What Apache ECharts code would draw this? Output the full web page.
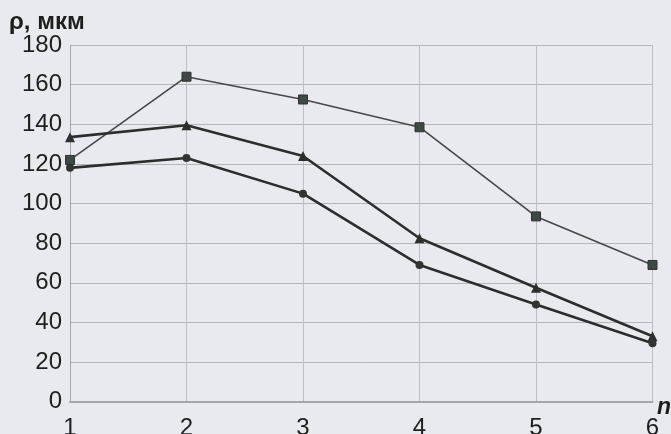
<!DOCTYPE html>
<html>
<head>
<meta charset="utf-8">
<script src="https://cdn.jsdelivr.net/npm/echarts@6/dist/echarts.min.js"></script>
<style>
html,body{margin:0;padding:0;background:#e9eaef;}
#chart{width:671px;height:434px;}
</style>
</head>
<body>
<div id="chart"></div>
<script>
var categories = ['1', '2', '3', '4', '5', '6'];
var seriesSquares = [122, 164, 152.5, 138.5, 93.5, 69];
var seriesTriangles = [133.5, 139.5, 124, 82.5, 57.5, 33];
var seriesCircles = [118, 123, 105, 69, 49, 29.5];
var yTicks = [0, 20, 40, 60, 80, 100, 120, 140, 160, 180];
var yTitle = 'ρ, мкм';
var xTitle = 'n';

var chart = echarts.init(document.getElementById('chart'), null, {renderer: 'canvas'});
var font = '"Liberation Sans", Arial, sans-serif';
chart.setOption({
  backgroundColor: '#e9eaef',
  animation: false,
  grid: {left: 70, right: 18.5, top: 45, bottom: 32.3, containLabel: false, outerBoundsMode: 'none'},
  xAxis: {
    type: 'category',
    data: categories,
    boundaryGap: false,
    axisLine: {lineStyle: {color: '#a4a5aa', width: 2}},
    axisTick: {show: false},
    axisLabel: {color: '#1e1e1e', fontSize: 24, fontFamily: font, margin: 15},
    splitLine: {show: true, lineStyle: {color: '#bdbec3', width: 1}}
  },
  yAxis: {
    type: 'value',
    min: yTicks[0],
    max: yTicks[yTicks.length - 1],
    interval: yTicks[1] - yTicks[0],
    axisLine: {show: true, lineStyle: {color: '#a4a5aa', width: 1}},
    axisTick: {show: false},
    axisLabel: {color: '#1e1e1e', fontSize: 24, fontFamily: font, margin: 8},
    splitLine: {show: true, lineStyle: {color: '#b5b6bb', width: 1}}
  },
  graphic: [
    {type: 'text', left: 9, top: 10, style: {text: yTitle, font: 'bold 24px ' + font, fill: '#1e1e1e'}},
    {type: 'text', left: 657, top: 396, style: {text: xTitle, font: 'italic bold 23px ' + font, fill: '#1e1e1e'}}
  ],
  series: [
    {
      type: 'line', data: seriesSquares, symbol: 'rect', symbolSize: 9,
      lineStyle: {color: '#454848', width: 1.6},
      itemStyle: {color: '#3e4844', borderColor: '#2e3431', borderWidth: 1}
    },
    {
      type: 'line', data: seriesTriangles, symbol: 'triangle', symbolSize: 10,
      lineStyle: {color: '#2b2e2e', width: 2.6},
      itemStyle: {color: '#2b302e'}
    },
    {
      type: 'line', data: seriesCircles, symbol: 'circle', symbolSize: 8,
      lineStyle: {color: '#2b2e2e', width: 2.6},
      itemStyle: {color: '#2f3532'}
    }
  ]
});
</script>
</body>
</html>
